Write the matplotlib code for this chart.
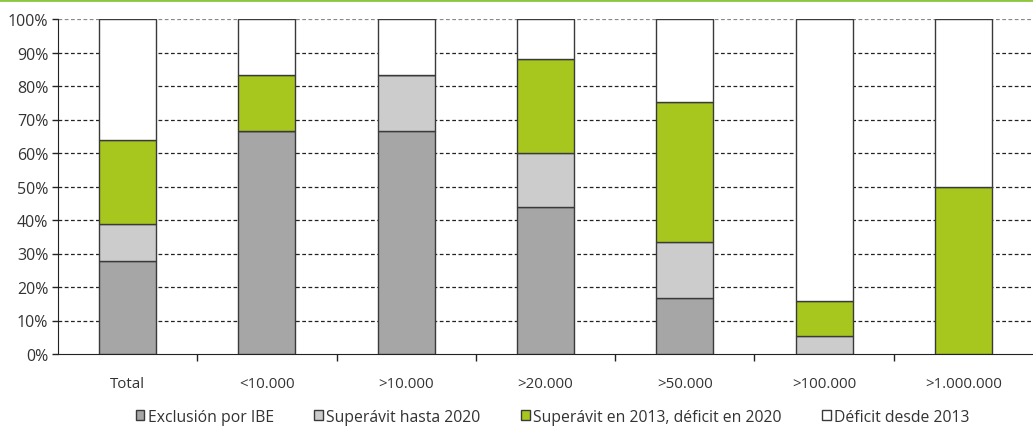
import matplotlib
matplotlib.use("Agg")
import matplotlib.pyplot as plt
from matplotlib.patches import Patch
from matplotlib.lines import Line2D
import numpy as np

categories = ["Total", "<10.000", ">10.000", ">20.000", ">50.000", ">100.000", ">1.000.000"]
series_names = ["Exclusión por IBE", "Superávit hasta 2020",
                "Superávit en 2013, déficit en 2020", "Déficit desde 2013"]
exclusion = [27.9, 66.7, 66.7, 44.0, 16.7, 0.0, 0.0]
superavit_2020 = [10.9, 0.0, 16.7, 16.0, 16.7, 5.3, 0.0]
superavit_2013 = [25.2, 16.7, 0.0, 28.0, 41.7, 10.5, 50.0]
deficit = [36.0, 16.6, 16.6, 12.0, 24.9, 84.2, 50.0]
yticks = [0, 10, 20, 30, 40, 50, 60, 70, 80, 90, 100]
ytick_labels = [f"{v}%" for v in yticks]

colors = ["#A6A6A6", "#CCCCCC", "#A8C71E", "#FFFFFF"]
edge = "#3a3a3a"

plt.rcParams['font.family'] = ['Open Sans', 'DejaVu Sans']

fig = plt.figure(figsize=(10.33, 4.27), dpi=100)
ax = fig.add_axes([58/1033, 72/427, (1033-58)/1033, 335/427])

x = np.arange(len(categories))
bottom = np.zeros(len(categories))
for vals, c in zip([exclusion, superavit_2020, superavit_2013, deficit], colors):
    v = np.array(vals)
    ax.bar(x, v, bottom=bottom, width=0.41, color=c, edgecolor=edge, linewidth=1.0, zorder=3)
    bottom += v

ax.set_xlim(-0.5, len(categories) - 0.5)
ax.set_ylim(0, 100)
ax.set_yticks(yticks)
ax.set_yticklabels(ytick_labels, fontsize=11.5, color="#333333")
for yv in yticks[1:]:
    ax.axhline(yv, color="#222222" if yv < 100 else "#888888", linestyle=(0, (3, 2)), linewidth=0.9, zorder=1)

ax.set_xticks(x)
ax.set_xticklabels(categories, fontsize=10.8, color="#333333")
ax.tick_params(axis='x', length=0, pad=16)
ax.set_xticks(np.arange(0.5, len(categories) - 0.5, 1.0), minor=True)
ax.tick_params(axis='x', which='minor', length=5, width=1, color="#222222")
ax.tick_params(axis='y', length=4, width=1, color="#222222", pad=3)

for s in ["top", "right"]:
    ax.spines[s].set_visible(False)
ax.spines["left"].set_color("#222222")
ax.spines["bottom"].set_color("#222222")

# top green rule
fig.add_artist(Line2D([0, 1], [1 - 1/427, 1 - 1/427], transform=fig.transFigure,
                      color="#8DC63F", linewidth=2))

handles = [Patch(facecolor=c, edgecolor=edge, linewidth=1.0) for c in colors]
fig.legend(handles, series_names, loc="center", bbox_to_anchor=(0.535, 0.022), ncol=4,
           frameon=False, fontsize=11.3, handlelength=0.55, handleheight=0.55,
           handletextpad=0.2, columnspacing=2.6, labelcolor="#333333",
           borderpad=0, borderaxespad=0)

fig.savefig("out.png", dpi=100)
